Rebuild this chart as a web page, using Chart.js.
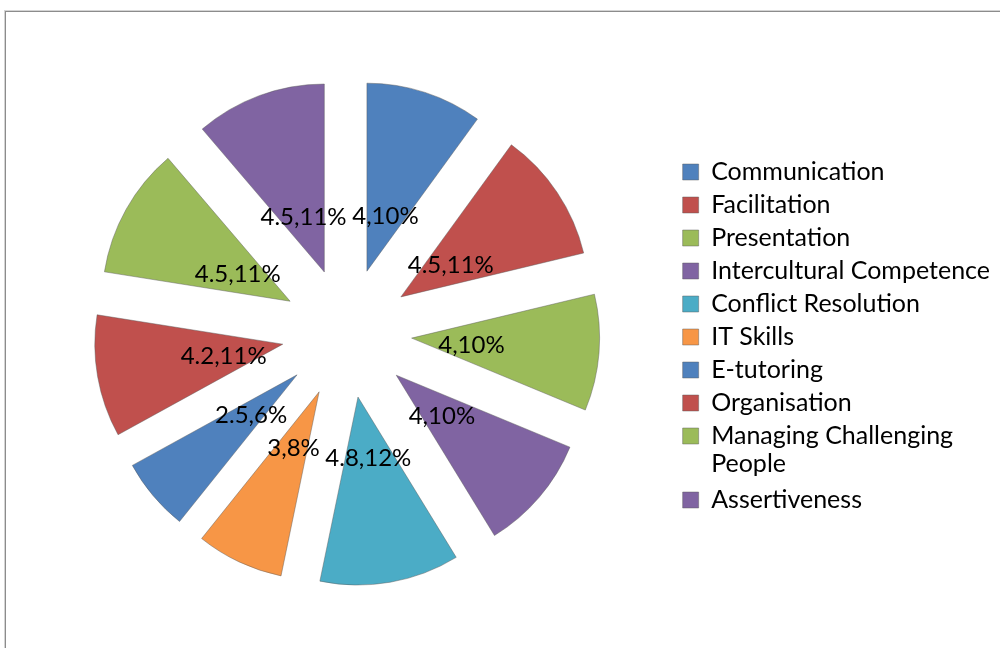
<!DOCTYPE html>
<html>
<head>
<meta charset="utf-8">
<script src="https://cdn.jsdelivr.net/npm/chart.js@4.4.1/dist/chart.umd.min.js"></script>
<style>
  html, body { margin: 0; padding: 0; background: #fff; }
  #wrap { position: relative; width: 1000px; height: 648px; overflow: hidden; }
  #frame { position: absolute; left: 5px; top: 11px; width: 1000px; height: 700px;
           border: 1px solid #8c8c8c; box-shadow: -1px -1px 0 #d4d4d4; }
  #chart { position: absolute; left: 0; top: 0; }
</style>
</head>
<body>
<div id="wrap">
  <div id="frame"></div>
  <canvas id="chart" width="1000" height="648"></canvas>
</div>
<script>
// Skills and their ratings
const skills = ['Communication', 'Facilitation', 'Presentation', 'Intercultural Competence',
  'Conflict Resolution', 'IT Skills', 'E-tutoring', 'Organisation',
  'Managing Challenging People', 'Assertiveness'];
const ratings = [4, 4.5, 4, 4, 4.8, 3, 2.5, 4.2, 4.5, 4.5];
const colors = ['#4F81BD', '#C0504D', '#9BBB59', '#8064A2', '#4BACC6',
  '#F79646', '#4F81BD', '#C0504D', '#9BBB59', '#8064A2'];

const total = ratings.reduce((a, b) => a + b, 0);
const FONT = 'Lato';
const pieR = 188;      // outer radius in px
const explode = 65;    // distance each slice is pulled out

// chart.js moves an arc by offset/4 but also grows its radius and trims its angle;
// undo both so every slice keeps the same radius and straight edges
const evenRadius = {
  id: 'evenRadius',
  beforeDatasetsDraw(chart) {
    chart.getDatasetMeta(0).data.forEach(arc => {
      const fix = 1 - Math.sin(Math.min(Math.PI, arc.circumference));
      const grow = explode * fix;
      arc.outerRadius = pieR - grow;
      const mid = (arc.startAngle + arc.endAngle) / 2;
      const half = arc.circumference / 2 + grow / (2 * Math.PI * pieR);
      arc.startAngle = mid - half;
      arc.endAngle = mid + half;
    });
  }
};

// "value,percent" labels inside each slice
const sliceLabels = {
  id: 'sliceLabels',
  afterDatasetsDraw(chart) {
    const ctx = chart.ctx;
    ctx.save();
    ctx.font = '24px ' + FONT;
    ctx.fillStyle = '#000';
    ctx.textAlign = 'center';
    ctx.textBaseline = 'middle';
    chart.getDatasetMeta(0).data.forEach((arc, i) => {
      const mid = (arc.startAngle + arc.endAngle) / 2;
      const r = pieR * 0.665;
      const pct = Math.round(ratings[i] / total * 100);
      ctx.fillText(ratings[i] + ',' + pct + '%', arc.x + Math.cos(mid) * r, arc.y + Math.sin(mid) * r + 2);
    });
    ctx.restore();
  }
};

function draw() {
  new Chart(document.getElementById('chart'), {
    type: 'pie',
    data: {
      labels: skills,
      datasets: [{
        data: ratings,
        backgroundColor: colors,
        borderColor: 'rgba(90,90,90,0.45)',
        borderWidth: 1,
        offset: explode * 4,
        clip: false
      }]
    },
    options: {
      responsive: false,
      animation: false,
      radius: pieR,
      layout: { padding: { left: 19, top: 18, right: 0, bottom: 0 } },
      plugins: {
        tooltip: { enabled: false },
        legend: {
          position: 'right',
          title: { display: true, text: '', font: { size: 6, lineHeight: 1 }, padding: 0 },
          labels: {
            color: '#000',
            boxWidth: 16,
            boxHeight: 16,
            padding: 8,
            font: { family: FONT, size: 25, lineHeight: 1.12 },
            generateLabels(chart) {
              const items = Chart.overrides.pie.plugins.legend.labels.generateLabels(chart);
              items.forEach(it => {
                if (it.text.length > 25) {
                  const cut = it.text.lastIndexOf(' ');
                  it.text = [it.text.slice(0, cut), it.text.slice(cut + 1)];
                }
                it.strokeStyle = 'rgba(90,90,90,0.45)';
                it.lineWidth = 1;
              });
              return items;
            }
          }
        }
      }
    },
    plugins: [evenRadius, sliceLabels]
  });
}

document.fonts.load('25px ' + FONT).then(draw, draw);
</script>
</body>
</html>
